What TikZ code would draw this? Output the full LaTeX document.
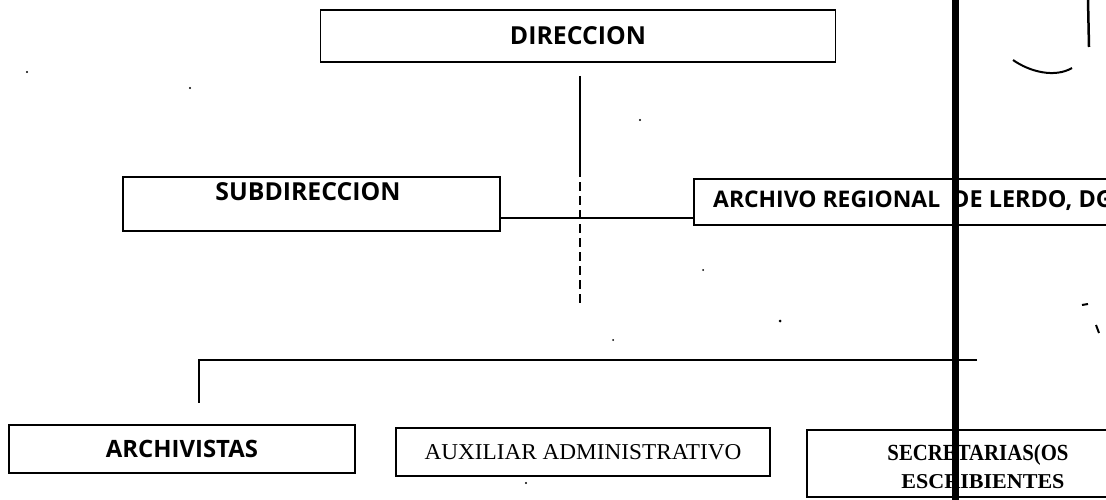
\documentclass[tikz,border=0pt]{standalone}
\usepackage{fontspec}
\usepackage{graphicx}
\newfontfamily\osans{Open Sans}
\newfontfamily\tserif{Liberation Serif}
\newcommand{\fw}[2]{\resizebox{#1}{!}{#2}}
\newcommand{\fwh}[3]{\resizebox{#1}{#2}{#3}}
\tikzset{
  box/.style={draw=black, line width=1.8pt, fill=white, inner sep=0pt},
  conn/.style={line width=1.4pt},
  txt/.style={inner sep=0pt, text=black},
}
\begin{document}
\begin{tikzpicture}[x=1pt,y=-1pt]
\clip (0,0) rectangle (1106,500);
\fill[white] (0,0) rectangle (1106,500);

% boxes
\node[box, minimum width=515pt, minimum height=52pt] (dir) at (578,36) {\osans\bfseries\fw{136pt}{DIRECCION}};
\node[box, minimum width=377pt, minimum height=54pt] (sub) at (311.5,204) {};
\node[txt] (subt) at (308,192) {\osans\bfseries\fw{185pt}{SUBDIRECCION}};
\node[box, minimum width=430pt, minimum height=46pt] (arch) at (909,202) {};
\node[txt, anchor=west] (archt) at (713,201) {\osans\bfseries\fw{227pt}{ARCHIVO REGIONAL}\hspace{12pt}\fw{185pt}{DE LERDO, DGO.}};
\node[box, minimum width=346pt, minimum height=48pt] (archi) at (182,449) {\osans\bfseries\fw{152pt}{ARCHIVISTAS}};
\node[box, minimum width=374pt, minimum height=48pt] (aux) at (583,452) {\tserif\fwh{317pt}{15pt}{AUXILIAR ADMINISTRATIVO}};
\node[box, minimum width=320pt, minimum height=67pt] (sec) at (967,463.5) {};
\node[txt] (sec1) at (978,455) {\tserif\bfseries\fwh{181pt}{16pt}{SECRETARIAS(OS}};
\node[txt] (sec2) at (983,482) {\tserif\bfseries\fwh{163pt}{14pt}{ESCRIBIENTES}};

% connectors
\coordinate (v1) at (580,76);
\coordinate (v2) at (580,168);
\coordinate (v3) at (580,303);
\draw[conn] (v1) -- (v2);
\draw[conn, dash pattern=on 9pt off 5pt] (v2) -- (v3);
\coordinate (h) at (0,218);
\draw[conn] (sub.east |- h) -- (arch.west |- h);
\coordinate (b1) at (199,360);
\coordinate (b2) at (977,360);
\coordinate (b3) at (199,403);
\draw[conn] (b2) -- (b1) -- (b3);

% scan marks
\draw[line width=2pt] (1013,60) .. controls (1030,72) and (1055,78) .. (1072,68);
\draw[line width=2.5pt] (1088,0) -- (1089,47);
\draw[line width=2pt] (1082,305) -- (1088,304);
\draw[line width=2pt] (1096,325) -- (1099,333);
\fill (27,72) circle (1.2pt);
\fill (190,88) circle (1.2pt);
\fill (640,120) circle (1.2pt);
\fill (780,321) circle (1.5pt);
\fill (526,483) circle (1.2pt);
\fill (613,340) circle (1pt);
\fill (703,270) circle (1pt);

% thick vertical bar
\fill (951.5,0) rectangle (958.5,500);
\end{tikzpicture}
\end{document}
